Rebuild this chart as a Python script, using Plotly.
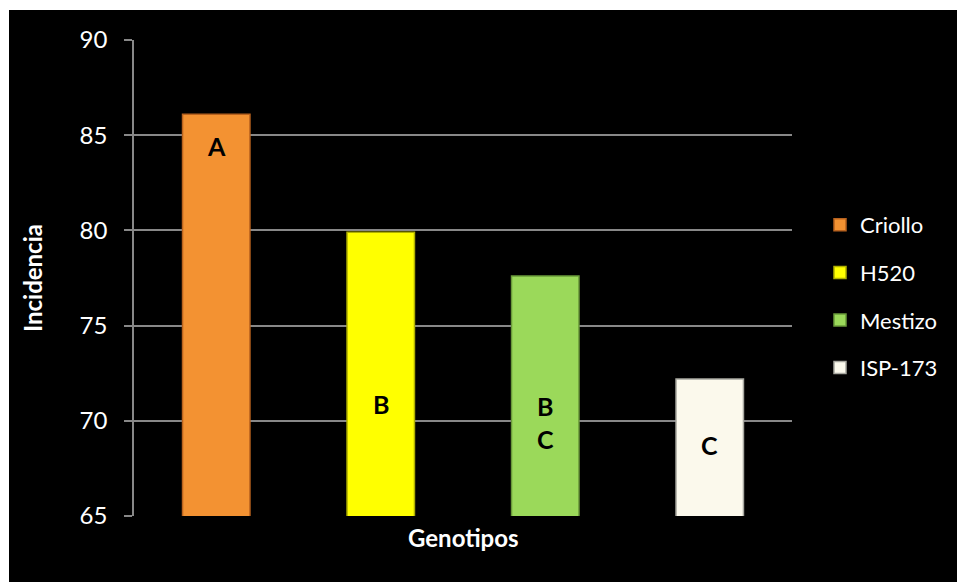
import plotly.graph_objects as go

# Incidence by genotype, with mean-separation letters
genotypes = ["Criollo", "H520", "Mestizo", "ISP-173"]
incidence = [86.1, 79.9, 77.6, 72.2]
groups = ["A", "B", "B<br>C", "C"]
colors = ["#F39232", "#FFFF00", "#9BD95A", "#FBF9EC"]
edges = ["#B8621E", "#B0B000", "#6A9A3A", "#A8A8A0"]
y_ticks = [65, 70, 75, 80, 85, 90]

# vertical placement of the letters inside each bar
label_y = [84.45, 70.9, 69.9, 68.75]

FONT = "Lato, 'Open Sans', sans-serif"

fig = go.Figure()
for name, val, col, edge in zip(genotypes, incidence, colors, edges):
    fig.add_trace(go.Bar(
        x=[name], y=[val], name=name, width=0.41,
        marker=dict(color=col, line=dict(color=edge, width=1.5)),
        legendgroup=name,
    ))

for name, grp, ly in zip(genotypes, groups, label_y):
    fig.add_annotation(x=name, y=ly, text=f"<b>{grp}</b>", showarrow=False,
                       font=dict(family=FONT, size=25, color="black"))

# axis titles
fig.add_annotation(xref="paper", yref="paper", x=(463 - 134) / 658, y=(516 - 537) / 476,
                   xanchor="center", yanchor="middle",
                   text="<b>Genotipos</b>", showarrow=False,
                   font=dict(family=FONT, size=24, color="white"))
fig.add_annotation(xref="paper", yref="paper", x=(32 - 134) / 658, y=0.5,
                   xanchor="center", yanchor="middle",
                   text="<b>Incidencia</b>", textangle=-90, showarrow=False,
                   font=dict(family=FONT, size=24, color="white"))

# white frame on the top and left edges
fig.add_shape(type="rect", xref="paper", yref="paper", layer="above",
              x0=-0.3, x1=(9 - 134) / 658, y0=-0.3, y1=1.3,
              fillcolor="white", line=dict(width=0))
fig.add_shape(type="rect", xref="paper", yref="paper", layer="above",
              x0=-0.3, x1=1.4, y0=(516 - 10) / 476, y1=1.3,
              fillcolor="white", line=dict(width=0))

fig.update_layout(
    width=957, height=582,
    margin=dict(l=134, r=165, t=40, b=66, autoexpand=False),
    paper_bgcolor="black", plot_bgcolor="black",
    barmode="overlay",
    showlegend=True,
    legend=dict(x=(820 - 134) / 658, xanchor="left", y=(516 - 204) / 476, yanchor="top",
                font=dict(family=FONT, size=22, color="white"),
                tracegroupgap=16, itemwidth=30, bgcolor="rgba(0,0,0,0)"),
    xaxis=dict(showticklabels=False, showgrid=False, ticks="",
               showline=False, zeroline=False,
               categoryorder="array", categoryarray=genotypes),
    yaxis=dict(range=[65, 90], tickvals=y_ticks, showgrid=True,
               gridcolor="#888888", gridwidth=1.5,
               showline=True, linecolor="#888888", linewidth=1.5,
               ticks="outside", ticklen=8, tickcolor="#888888", tickwidth=1.5,
               ticklabelstandoff=12,
               tickfont=dict(family=FONT, size=24, color="white"),
               zeroline=False),
)

fig.write_html("out.html")
